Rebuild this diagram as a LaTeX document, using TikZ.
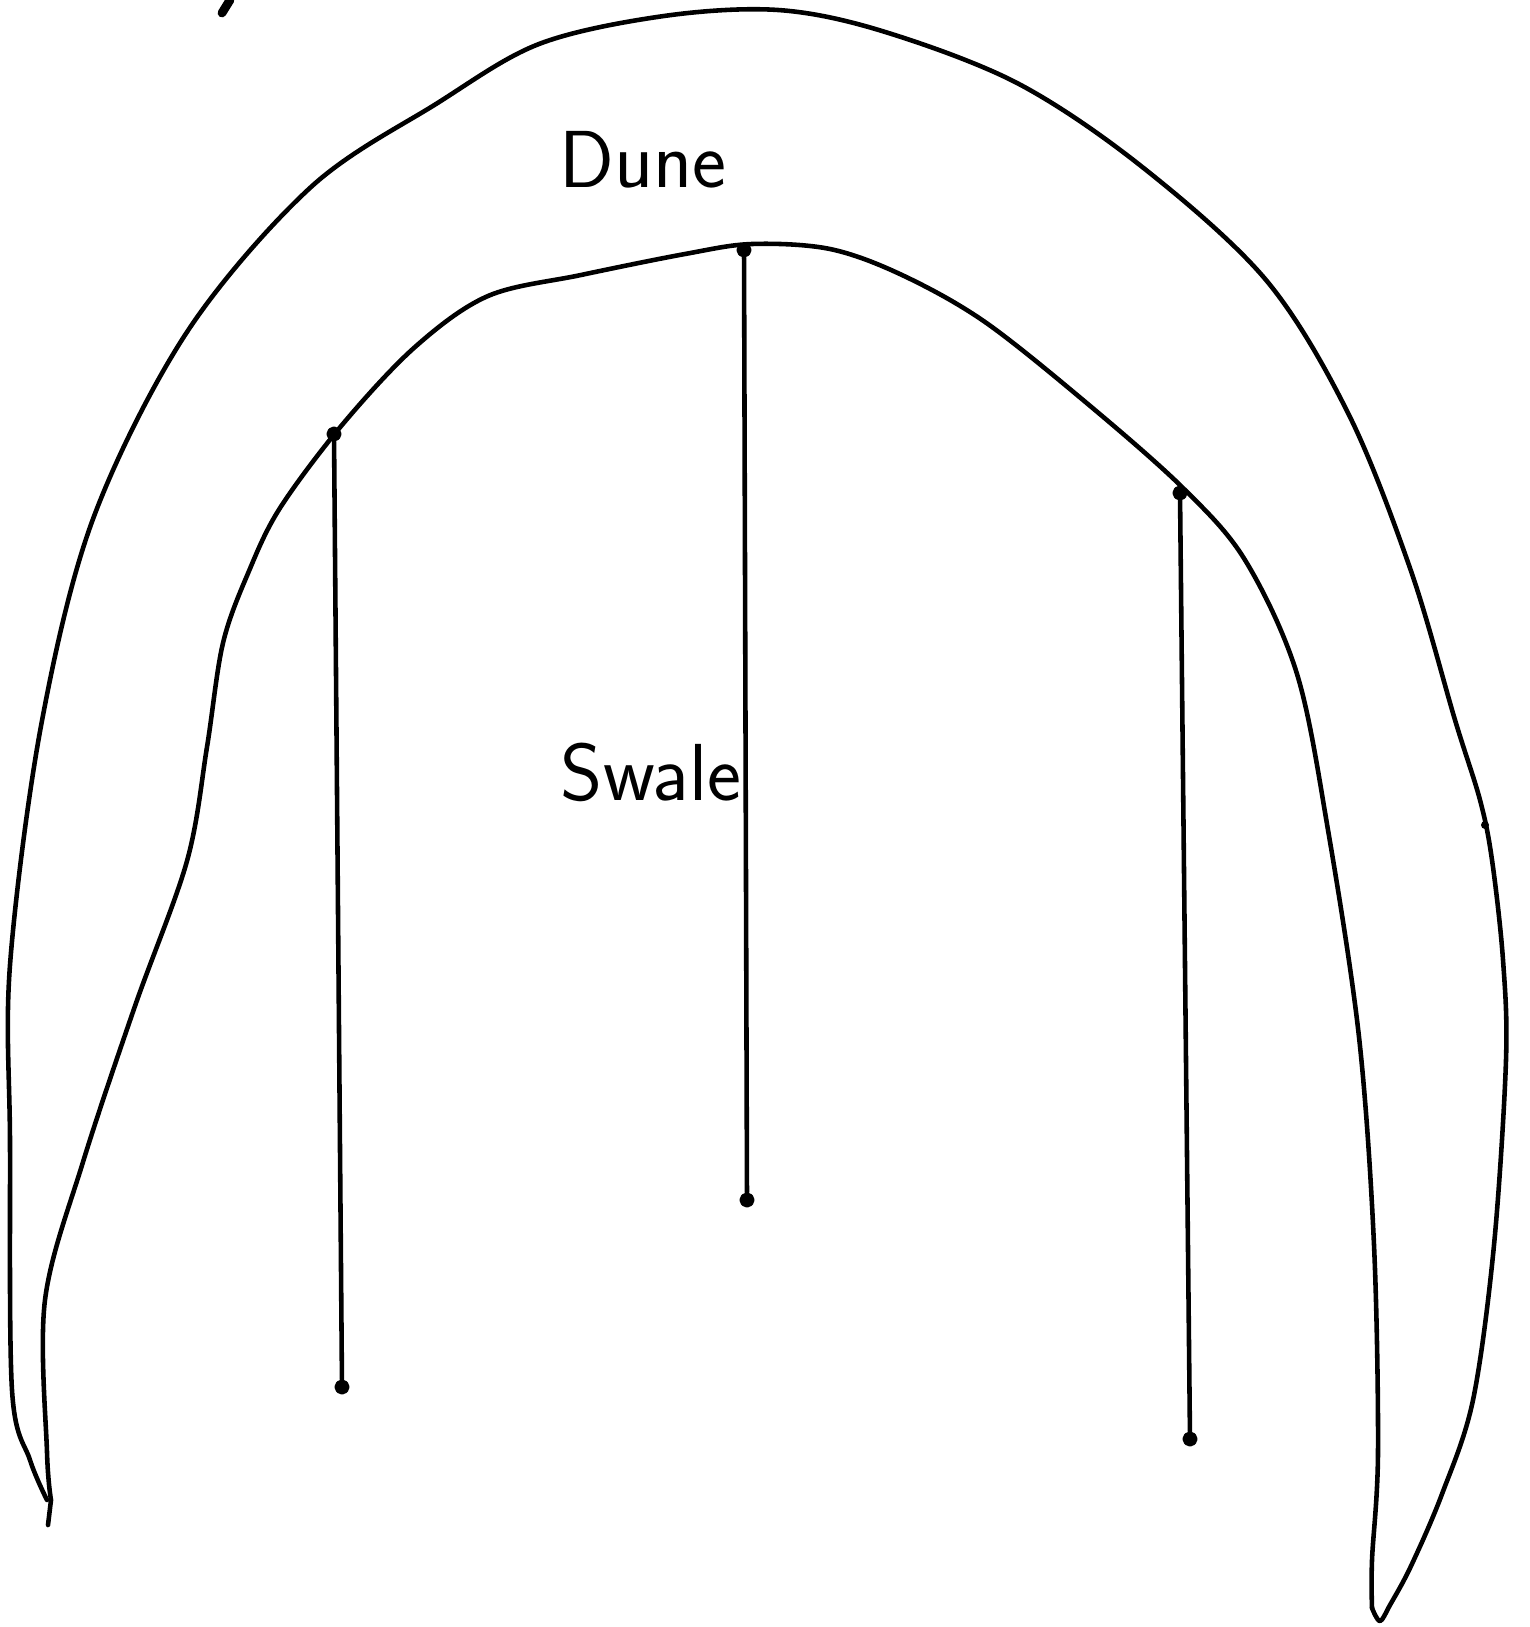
\documentclass[tikz,border=0pt]{standalone}
\usetikzlibrary{arrows.meta}

\begin{document}
\begin{tikzpicture}[x=0.01cm, y=-0.01cm, line width=1.3pt, line cap=round, line join=round,
    dot/.style={circle, fill, draw, inner sep=0pt, minimum size=3pt},
    label/.style={font=\sffamily\fontsize{23}{27}\selectfont}]
    \useasboundingbox (0,0) rectangle (1529,1627);
    \draw plot[smooth, tension=0.55] coordinates {(47,1500) (30,1460) (12,1390) (10,1141) (10,965) (41,726) (93,519) (187,332) (311,187) (436,104) (539,44) (664,16) (778,10) (882,31) (1017,83) (1141,166) (1266,280) (1349,415) (1411,571) (1455,720) (1480,800) (1492,860) (1503,960) (1506,1060) (1494,1245) (1473,1400) (1442,1494) (1411,1566) (1390,1605) (1380,1621) (1372,1608)};
    \draw plot[smooth, tension=0.55] coordinates {(1372,1608) (1372,1560) (1378,1452) (1374,1245) (1359,1037) (1328,830) (1297,674) (1245,560) (1183,488) (1089,405) (985,322) (902,275) (830,249) (752,244) (685,254) (581,275) (488,296) (415,347) (342,425) (280,508) (249,571) (223,643) (207,747) (187,861) (135,1006) (83,1162) (45,1300) (47,1452) (51,1500)};
    \draw (51,1500) -- (48,1525);
    \draw[line width=2.5pt] (230,0) -- (222,13);
    \fill (1485,825) circle (4);
    \node[dot] (top1) at (334,434) {};
    \node[dot] (top2) at (744,250) {};
    \node[dot] (top3) at (1180,493) {};
    \node[dot] (end1) at (342,1387) {};
    \node[dot] (end2) at (747,1200) {};
    \node[dot] (end3) at (1190,1439) {};
    \draw (top1) -- (end1);
    \draw (top2) -- (end2);
    \draw (top3) -- (end3);
    \node[label] (dune) at (643,160) {Dune};
    \node[label] (swale) at (651,772) {Swale};
\end{tikzpicture}
\end{document}
